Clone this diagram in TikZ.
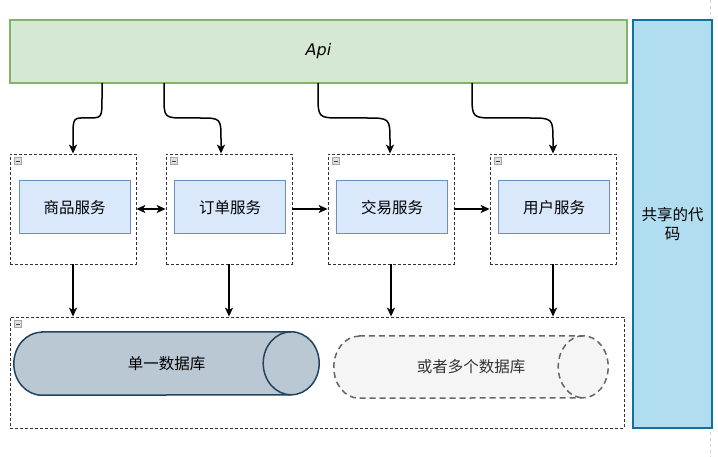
\documentclass[tikz,border=0pt]{standalone}
\usepackage{fontspec}
\newfontfamily\cjkfont{Noto Sans CJK SC}
\newfontfamily\apifont{DejaVu Sans}
\usepackage{tikz}
\usetikzlibrary{arrows.meta, calc}

\definecolor{apifill}{HTML}{D5E8D4}
\definecolor{apiline}{HTML}{82B366}
\definecolor{sharefill}{HTML}{B1DDF0}
\definecolor{shareline}{HTML}{10739E}
\definecolor{svcfill}{HTML}{DAE8FC}
\definecolor{svcline}{HTML}{6C8EBF}
\definecolor{dbfill}{HTML}{BAC8D3}
\definecolor{dbline}{HTML}{23445D}
\definecolor{dbtwofill}{HTML}{F5F5F5}
\definecolor{dbtwoline}{HTML}{666666}
\definecolor{dbtwotext}{HTML}{333333}

\begin{document}
\begin{tikzpicture}[
  x=1pt, y=-1pt,
  >={Stealth[length=9pt, width=8pt, inset=2.5pt]},
  cjk/.style={font=\cjkfont\fontsize{15.5}{19}\selectfont},
  group/.style={draw=black!80, dash pattern=on 3pt off 2pt, line width=0.8pt,
                inner sep=0pt},
  service/.style={cjk, draw=svcline, fill=svcfill, line width=1pt,
                  minimum width=111pt, minimum height=53pt, inner sep=0pt},
  fold/.style={draw=gray!70, fill=gray!25, line width=0.6pt, minimum size=7pt,
               inner sep=0pt,
               path picture={\draw[black!75, line width=1pt]
                 ([xshift=1.5pt]path picture bounding box.west) --
                 ([xshift=-1.5pt]path picture bounding box.east);}},
  flow/.style={->, line width=1.5pt},
  dbone/.style={draw=dbline, fill=dbfill, line width=1.5pt},
  dbtwo/.style={draw=dbtwoline, fill=dbtwofill, line width=1.5pt,
                dash pattern=on 6pt off 4pt},
  pagebreak/.style={draw=gray!35, dash pattern=on 3pt off 3pt, line width=0.8pt}
]
\useasboundingbox (0,0) rectangle (718,457);

%% ── Fond ────────────────────────────────────────────────────────────
\draw[pagebreak] (710,0) -- (710,457);

%% ── Api et code partagé ─────────────────────────────────────────────
\node[draw=apiline, fill=apifill, line width=1.5pt, minimum width=617pt,
  minimum height=63pt, font=\apifont\itshape\fontsize{16}{18}\selectfont]
  (api) at (318.5,51.5) {Api};

\node[cjk, draw=shareline, fill=sharefill, line width=2pt, minimum width=79pt,
  minimum height=408pt, align=center] (shared) at (672.5,224)
  {共享的代\\码};

%% ── Groupes de services ─────────────────────────────────────────────
\node[group, minimum width=126pt, minimum height=110pt] (g1) at (73,209) {};
\node[group, minimum width=126pt, minimum height=110pt] (g2) at (229,209) {};
\node[group, minimum width=126pt, minimum height=110pt] (g3) at (391,209) {};
\node[group, minimum width=126pt, minimum height=110pt] (g4) at (553,209) {};
\node[group, minimum width=614pt, minimum height=111pt] (gdb) at (317,372.5) {};

\node[fold] (f1) at ([xshift=8pt, yshift=-7.5pt]g1.north west) {};
\node[fold] (f2) at ([xshift=8pt, yshift=-7.5pt]g2.north west) {};
\node[fold] (f3) at ([xshift=8pt, yshift=-7.5pt]g3.north west) {};
\node[fold] (f4) at ([xshift=8pt, yshift=-7.5pt]g4.north west) {};
\node[fold] (f5) at ([xshift=8pt, yshift=-7.5pt]gdb.north west) {};

%% ── Services ────────────────────────────────────────────────────────
\node[service] (goods) at (74.5,207.5) {商品服务};
\node[service] (order) at (230,207.5)  {订单服务};
\node[service] (trade) at (392,207.5)  {交易服务};
\node[service] (user)  at (554,207.5)  {用户服务};

%% ── Bases de données ────────────────────────────────────────────────
\node[minimum width=305pt, minimum height=63pt, inner sep=0pt] (db1) at (166.5,363.5) {};
\draw[dbone] ([xshift=28pt]db1.north west) -- ([xshift=-28pt]db1.north east)
  arc[start angle=90, end angle=-90, x radius=28pt, y radius=31.5pt]
  -- ([xshift=28pt]db1.south west)
  arc[start angle=270, end angle=90, x radius=28pt, y radius=31.5pt] -- cycle;
\draw[dbone, fill=none] ([xshift=-28pt]db1.north east)
  arc[start angle=90, end angle=270, x radius=28pt, y radius=31.5pt];
\node[cjk] (db1text) at (db1.center) {单一数据库};

\node[minimum width=274pt, minimum height=62pt, inner sep=0pt] (db2) at (471,367) {};
\draw[dbtwo] ([xshift=25pt]db2.north west) -- ([xshift=-25pt]db2.north east)
  arc[start angle=90, end angle=-90, x radius=25pt, y radius=31pt]
  -- ([xshift=25pt]db2.south west)
  arc[start angle=270, end angle=90, x radius=25pt, y radius=31pt] -- cycle;
\draw[dbtwo, fill=none] ([xshift=-25pt]db2.north east)
  arc[start angle=90, end angle=270, x radius=25pt, y radius=31pt];
\node[cjk, text=dbtwotext] (db2text) at (db2.center) {或者多个数据库};

%% ── Flèches Api → groupes ───────────────────────────────────────────
\coordinate (a1) at (102,83);
\coordinate (a2) at (164,83);
\coordinate (a3) at (318,83);
\coordinate (a4) at (472,83);

\draw[flow] (a1) -- ++(0,15) .. controls ($(a1)+(0,35)$) .. ($(a1)+(-14.5,35)$)
  .. controls ($(a1 |- g1.north)+(-29,-36)$) .. ($(a1 |- g1.north)+(-29,-16)$)
  -- ($(a1 |- g1.north)+(-29,0)$);
\draw[flow] (a2) -- ++(0,13) .. controls ($(a2)+(0,35)$) .. ($(a2)+(22,35)$)
  -- ($(a2)+(35,35)$) .. controls ($(a2)+(57,35)$) .. ($(a2)+(57,57)$)
  -- ($(a2 |- g2.north)+(57,0)$);
\draw[flow] (a3) -- ++(0,11) .. controls ($(a3)+(0,35)$) .. ($(a3)+(24,35)$)
  -- ($(a3)+(48,35)$) .. controls ($(a3)+(72,35)$) .. ($(a3)+(72,59)$)
  -- ($(a3 |- g3.north)+(72,0)$);
\draw[flow] (a4) -- ++(0,11) .. controls ($(a4)+(0,35)$) .. ($(a4)+(24,35)$)
  -- ($(a4)+(57,35)$) .. controls ($(a4)+(81,35)$) .. ($(a4)+(81,59)$)
  -- (g4.north);

%% ── Flèches entre groupes ───────────────────────────────────────────
\draw[flow, <->] (g1.east) -- (g2.west);
\draw[flow] (g2.east) -- (g3.west);
\draw[flow] (g3.east) -- (g4.west);

%% ── Flèches groupes → bases ─────────────────────────────────────────
\draw[flow] (g1.south) -- (g1.south |- gdb.north);
\draw[flow] (g2.south) -- (g2.south |- gdb.north);
\draw[flow] (g3.south) -- (g3.south |- gdb.north);
\draw[flow] (g4.south) -- (g4.south |- gdb.north);

\end{tikzpicture}
\end{document}
